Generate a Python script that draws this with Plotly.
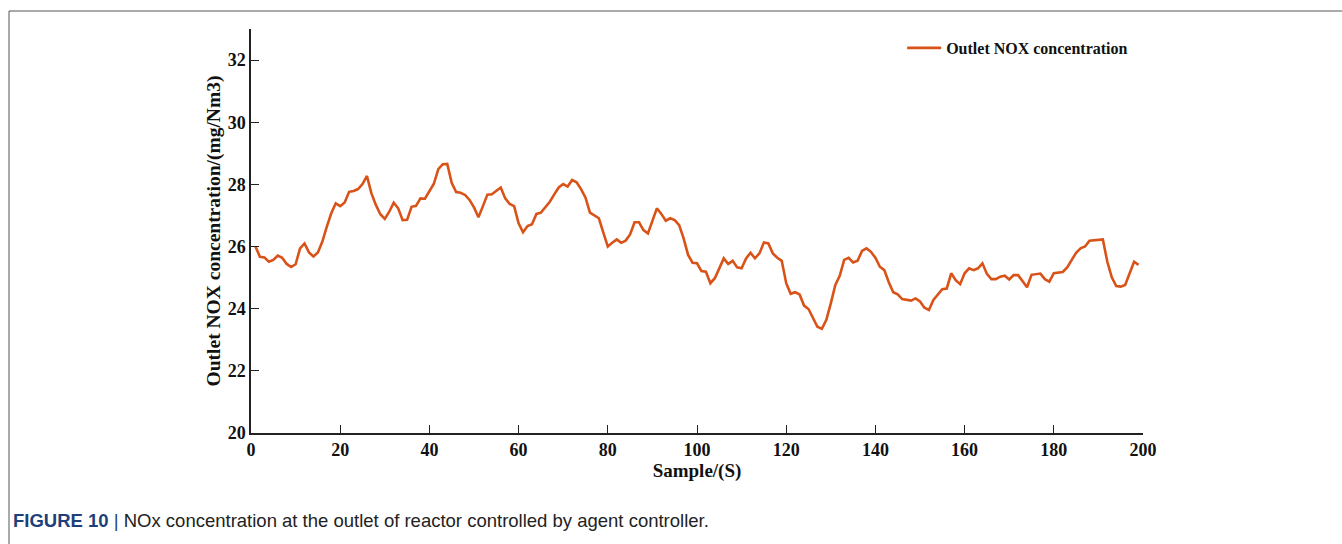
import plotly.graph_objects as go

# Outlet NOx concentration per sample (mg/Nm3)
samples = list(range(1, 200))
nox_outlet = [
    26.00, 25.67, 25.65, 25.51, 25.57, 25.71, 25.64, 25.44, 25.34, 25.43,
    25.94, 26.10, 25.81, 25.68, 25.81, 26.16, 26.64, 27.07, 27.39, 27.30,
    27.42, 27.76, 27.79, 27.85, 28.01, 28.27, 27.71, 27.34, 27.04, 26.89,
    27.12, 27.41, 27.23, 26.85, 26.86, 27.28, 27.31, 27.55, 27.54, 27.76,
    28.02, 28.49, 28.65, 28.66, 28.05, 27.75, 27.73, 27.66, 27.50, 27.26,
    26.94, 27.30, 27.67, 27.68, 27.79, 27.90, 27.55, 27.37, 27.30, 26.75,
    26.46, 26.66, 26.72, 27.05, 27.09, 27.26, 27.44, 27.68, 27.90, 28.01,
    27.93, 28.14, 28.07, 27.85, 27.57, 27.09, 26.99, 26.91, 26.45, 26.00,
    26.12, 26.23, 26.12, 26.19, 26.39, 26.78, 26.78, 26.53, 26.42, 26.85,
    27.23, 27.05, 26.83, 26.91, 26.85, 26.69, 26.26, 25.73, 25.48, 25.46,
    25.21, 25.19, 24.82, 24.98, 25.30, 25.62, 25.44, 25.54, 25.33, 25.30,
    25.62, 25.80, 25.62, 25.78, 26.13, 26.10, 25.78, 25.64, 25.54, 24.82,
    24.48, 24.53, 24.46, 24.10, 23.99, 23.69, 23.42, 23.35, 23.64, 24.17,
    24.76, 25.06, 25.57, 25.64, 25.49, 25.54, 25.86, 25.94, 25.83, 25.64,
    25.35, 25.24, 24.85, 24.53, 24.46, 24.31, 24.29, 24.26, 24.33, 24.23,
    24.03, 23.96, 24.28, 24.46, 24.63, 24.65, 25.14, 24.92, 24.79, 25.14,
    25.30, 25.24, 25.30, 25.46, 25.12, 24.95, 24.95, 25.03, 25.06, 24.94,
    25.08, 25.08, 24.89, 24.69, 25.09, 25.12, 25.13, 24.95, 24.87, 25.14,
    25.16, 25.18, 25.33, 25.57, 25.80, 25.94, 26.00, 26.19, 26.20, 26.20,
    26.23, 25.51, 25.01, 24.73, 24.71, 24.76, 25.12, 25.51, 25.41,
]

x_ticks = [0, 20, 40, 60, 80, 100, 120, 140, 160, 180, 200]
y_ticks = [20, 22, 24, 26, 28, 30, 32]

SERIF = "Liberation Serif, Times New Roman, serif"
SANS = "Liberation Sans, Arial, sans-serif"
LINE_COLOR = "#D95319"

fig = go.Figure()
fig.add_trace(go.Scatter(
    x=samples, y=nox_outlet, mode="lines",
    name="<b>Outlet NOX concentration</b>",
    line=dict(color=LINE_COLOR, width=2.6),
))

axis_common = dict(
    showline=True, linecolor="#222", linewidth=1.5,
    ticks="inside", ticklen=8, tickwidth=1.3, tickcolor="#222",
    showgrid=False, zeroline=False, mirror=False,
    tickfont=dict(family=SERIF, size=18, color="#111"),
)

fig.update_layout(
    width=1342, height=544,
    margin=dict(l=251, r=199, t=29, b=111),
    paper_bgcolor="white", plot_bgcolor="white",
    showlegend=True,
    legend=dict(
        x=0.73, y=0.995, xanchor="left", yanchor="top",
        bgcolor="rgba(0,0,0,0)", borderwidth=0,
        font=dict(family=SERIF, size=16, color="#111"),
        itemwidth=34,
    ),
    xaxis=dict(
        range=[0, 200], tickvals=x_ticks,
        ticktext=[f"<b>{v}</b>" for v in x_ticks],
        title=dict(text="<b>Sample/(S)</b>", font=dict(family=SERIF, size=19, color="#111"), standoff=4),
        **axis_common,
    ),
    yaxis=dict(
        range=[20, 33], tickvals=y_ticks,
        ticktext=[f"<b>{v}</b>" for v in y_ticks],
        title=dict(text="<b>Outlet NOX concentration/(mg/Nm3)</b>",
                   font=dict(family=SERIF, size=19.5, color="#111"), standoff=2),
        **axis_common,
    ),
)

# Figure frame (top and left edges visible)
fig.add_shape(type="rect", xref="paper", yref="paper",
              x0=-242 / 892, x1=1.3, y0=-0.5, y1=1 + 18 / 404,
              line=dict(color="#555", width=1), fillcolor="rgba(0,0,0,0)", layer="below")

# Caption
fig.add_annotation(
    xref="paper", yref="paper", x=-240 / 892, y=-(520 - 433) / 404,
    xanchor="left", yanchor="middle", showarrow=False,
    text="<b><span style='color:#1f3f7a'>FIGURE 10</span></b> <span style='color:#1f3f7a'>|</span> NOx concentration at the outlet of reactor controlled by agent controller.",
    font=dict(family=SANS, size=18.5, color="#222"),
)

fig.write_html("out.html")
